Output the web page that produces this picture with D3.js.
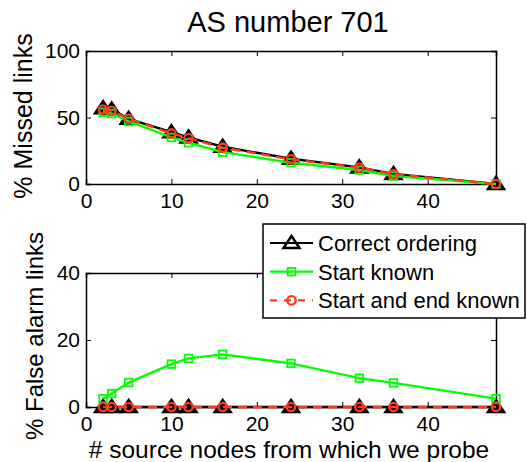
<!DOCTYPE html>
<html>
<head>
<meta charset="utf-8">
<script src="https://cdn.jsdelivr.net/npm/d3@7"></script>
<style>
  body { margin: 0; background: #fff; }
  text { font-family: "Liberation Sans", Arial, sans-serif; fill: #000; }
</style>
</head>
<body>
<script>
const sources = [2, 3, 5, 10, 12, 16, 24, 32, 36, 48];

const missedCorrect = [57, 56, 49, 39, 35, 28, 19, 12.5, 7.5, 0];
const missedStart = [54, 53, 47, 35, 31, 24, 16, 10.5, 6, 0];
const missedStartEnd = [56, 55, 49, 38, 34.5, 27.3, 18.5, 12.3, 7.3, 0];

const falseCorrect = [0, 0, 0, 0, 0, 0, 0, 0, 0, 0];
const falseStart = [2.5, 4, 7.3, 12.8, 14.5, 15.7, 13, 8.6, 7.2, 2.5];
const falseStartEnd = [0, 0, 0, 0, 0, 0, 0, 0, 0, 0];

const xTicks = [0, 10, 20, 30, 40];
const missedTicks = [0, 50, 100];
const falseTicks = [0, 20, 40];

const seriesNames = ['Correct ordering', 'Start known', 'Start and end known'];

const width = 527;
const height = 462;
const green = '#00ff00';
const red = '#ff3b1f';

const svg = d3.select('body')
  .append('svg')
    .attr('width', width)
    .attr('height', height);

svg.append('text')
  .attr('x', 288)
  .attr('y', 31.5)
  .attr('text-anchor', 'middle')
  .style('font-size', '29px')
  .text('AS number 701');

const x = d3.scaleLinear().domain([0, 48]).range([86, 496]);

const drawMarker = (g, type, cx, cy, filled) => {
  if (type === 'tri') {
    g.append('path')
      .attr('d', `M${cx},${cy - 7}L${cx + 8},${cy + 5}L${cx - 8},${cy + 5}Z`)
      .attr('fill', filled ? '#000' : 'none')
      .attr('stroke', '#000')
      .attr('stroke-width', 2.5)
      .attr('stroke-linejoin', 'miter');
  } else if (type === 'sq') {
    g.append('rect')
      .attr('x', cx - 3.8).attr('y', cy - 3.8)
      .attr('width', 7.6).attr('height', 7.6)
      .attr('fill', 'none')
      .attr('stroke', green)
      .attr('stroke-width', 1.8);
  } else {
    g.append('circle')
      .attr('cx', cx).attr('cy', cy).attr('r', 4.2)
      .attr('fill', 'none')
      .attr('stroke', red)
      .attr('stroke-width', 2.3);
  }
};

const drawPanel = (top, bottom, yMax, yTicks, data, yLabel, yLabelX, yLabelY, yLabelSize) => {
  const y = d3.scaleLinear().domain([0, yMax]).range([bottom, top]);
  const g = svg.append('g');

  // inward ticks on all four sides
  g.append('g')
    .attr('transform', `translate(0,${bottom})`)
    .call(d3.axisBottom(x).tickValues(xTicks).tickSize(-5).tickPadding(9).tickFormat(d3.format('d')));
  g.append('g')
    .attr('transform', `translate(0,${top})`)
    .call(d3.axisTop(x).tickValues(xTicks).tickSize(-5).tickFormat(''));
  g.append('g')
    .attr('transform', `translate(${x.range()[0]},0)`)
    .call(d3.axisLeft(y).tickValues(yTicks).tickSize(-5).tickPadding(6));
  g.append('g')
    .attr('transform', `translate(${x.range()[1]},0)`)
    .call(d3.axisRight(y).tickValues(yTicks).tickSize(-5).tickFormat(''));

  g.selectAll('.domain').attr('stroke', '#000').attr('stroke-width', 1.5);
  g.selectAll('.tick line').attr('stroke', '#000').attr('stroke-width', 1);
  g.selectAll('.tick text')
    .style('font-size', '21px')
    .style('font-family', '"Liberation Sans", Arial, sans-serif')
    .attr('fill', '#000');

  g.append('text')
    .attr('transform', `translate(${yLabelX},${yLabelY}) rotate(-90)`)
    .attr('text-anchor', 'middle')
    .style('font-size', yLabelSize)
    .text(yLabel);

  const line = d3.line()
    .x((d, i) => x(sources[i]))
    .y(d => y(d));

  const styles = [
    { color: '#000', dash: null, marker: 'tri' },
    { color: green, dash: null, marker: 'sq' },
    { color: red, dash: '9,6', marker: 'circ' }
  ];

  data.forEach((vals, k) => {
    const st = styles[k];
    g.append('path')
      .datum(vals)
      .attr('d', line)
      .attr('fill', 'none')
      .attr('stroke', st.color)
      .attr('stroke-width', 2.4)
      .attr('stroke-dasharray', st.dash);
    vals.forEach((v, i) => drawMarker(g, st.marker, x(sources[i]), y(v), true));
  });
};

drawPanel(51, 184, 100, missedTicks,
  [missedCorrect, missedStart, missedStartEnd], '% Missed links', 32, 116, '25px');
drawPanel(273, 407, 40, falseTicks,
  [falseCorrect, falseStart, falseStartEnd], '% False alarm links', 43, 336, '24px');

svg.append('text')
  .attr('x', 289)
  .attr('y', 457.5)
  .attr('text-anchor', 'middle')
  .style('font-size', '24.5px')
  .text('# source nodes from which we probe');

// legend
const legend = svg.append('g');
legend.append('rect')
  .attr('x', 263).attr('y', 224)
  .attr('width', 262).attr('height', 94)
  .attr('fill', '#fff')
  .attr('stroke', '#000')
  .attr('stroke-width', 1.5);

const legendStyles = [
  { color: '#000', dash: null, marker: 'tri' },
  { color: green, dash: null, marker: 'sq' },
  { color: red, dash: '7,7', marker: 'circ' }
];
seriesNames.forEach((name, i) => {
  const cy = 243 + i * 28.7;
  const st = legendStyles[i];
  legend.append('line')
    .attr('x1', 270).attr('x2', 313)
    .attr('y1', cy).attr('y2', cy)
    .attr('stroke', st.color)
    .attr('stroke-width', 2.2)
    .attr('stroke-dasharray', st.dash);
  drawMarker(legend, st.marker, 291.5, cy, false);
  legend.append('text')
    .attr('x', 318)
    .attr('y', cy + 8)
    .style('font-size', '22px')
    .text(name);
});
</script>
</body>
</html>
